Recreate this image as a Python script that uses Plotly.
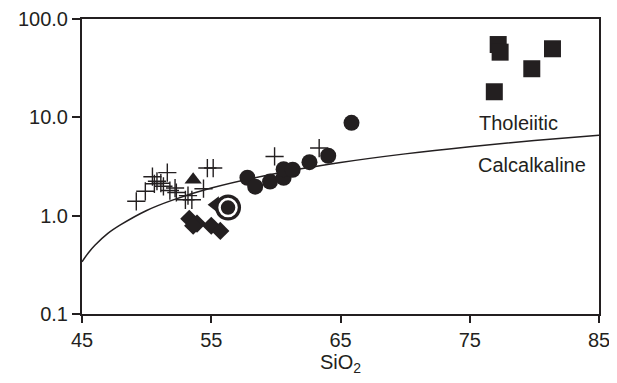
import plotly.graph_objects as go

# Boundary line (tholeiitic / calc-alkaline)
line_sio2 = [45, 45.5, 46, 47, 48, 50, 52, 55, 60, 65, 70, 75, 80, 85]
line_ratio = [0.34, 0.42, 0.50, 0.66, 0.81, 1.13, 1.44, 1.91, 2.69, 3.47, 4.25, 5.03, 5.81, 6.59]

cross_sio2 = [49.2, 49.9, 50.45, 50.8, 50.6, 51.1, 51.3, 51.6, 51.8, 52.3, 52.2, 53.0, 53.5, 53.2, 54.4, 54.7, 55.15, 59.9, 63.35]
cross_ratio = [1.40, 1.77, 2.49, 2.24, 2.11, 2.14, 1.99, 2.74, 1.80, 1.72, 1.91, 1.45, 1.45, 1.60, 1.88, 3.05, 3.05, 4.0, 4.87]

circle_sio2 = [57.8, 58.4, 59.55, 60.6, 60.6, 61.3, 62.6, 64.05, 65.85]
circle_ratio = [2.43, 1.97, 2.22, 2.43, 2.97, 2.93, 3.50, 4.07, 8.8]

square_sio2 = [77.2, 77.35, 81.4, 79.8, 76.9]
square_ratio = [55.0, 46.0, 49.8, 31.2, 18.2]

diamond_sio2 = [53.3, 53.9, 53.6, 55.0, 55.7]
diamond_ratio = [0.93, 0.83, 0.79, 0.79, 0.70]

triangle_sio2 = [53.6]
triangle_ratio = [2.32]

tri_left_sio2 = [55.3]
tri_left_ratio = [1.29]

ring_sio2 = [56.3]
ring_ratio = [1.21]

x_ticks = [45, 55, 65, 75, 85]
y_ticks = [0.1, 1, 10, 100]
y_ticktext = ["0.1", "1.0", "10.0", "100.0"]

INK = "#231f20"
FONT = "Liberation Sans, Arial, sans-serif"

fig = go.Figure()
fig.add_trace(go.Scatter(x=line_sio2, y=line_ratio, mode="lines",
                         line=dict(color=INK, width=1.5, shape="spline"), hoverinfo="skip"))
fig.add_trace(go.Scatter(x=cross_sio2, y=cross_ratio, mode="markers",
                         marker=dict(symbol="cross-thin", size=13, line=dict(color=INK, width=1.4))))
fig.add_trace(go.Scatter(x=diamond_sio2, y=diamond_ratio, mode="markers",
                         marker=dict(symbol="diamond", size=14, color=INK)))
fig.add_trace(go.Scatter(x=triangle_sio2, y=triangle_ratio, mode="markers",
                         marker=dict(symbol="triangle-up", size=15, color=INK)))
fig.add_trace(go.Scatter(x=tri_left_sio2, y=tri_left_ratio, mode="markers",
                         marker=dict(symbol="triangle-left", size=15, color=INK)))
fig.add_trace(go.Scatter(x=ring_sio2, y=ring_ratio, mode="markers",
                         marker=dict(symbol="circle", size=26, color=INK)))
fig.add_trace(go.Scatter(x=ring_sio2, y=ring_ratio, mode="markers",
                         marker=dict(symbol="circle-open", size=17, color="white",
                                     line=dict(color="white", width=2.5))))
fig.add_trace(go.Scatter(x=circle_sio2, y=circle_ratio, mode="markers",
                         marker=dict(symbol="circle", size=16, color=INK)))
fig.add_trace(go.Scatter(x=square_sio2, y=square_ratio, mode="markers",
                         marker=dict(symbol="square", size=17, color=INK)))

fig.add_annotation(x=78.8, y=0.945, yref="y", text="Tholeiitic", showarrow=False,
                   font=dict(family=FONT, size=20, color=INK))
fig.add_annotation(x=79.8, y=0.518, yref="y", text="Calcalkaline", showarrow=False,
                   font=dict(family=FONT, size=20, color=INK))
fig.add_annotation(x=0.5, xref="paper", y=0, yref="paper", yanchor="top", yshift=-35,
                   text="SiO<sub>2</sub>", showarrow=False,
                   font=dict(family=FONT, size=20, color=INK))

# page body has an 8px margin, so the figure is offset by 8px in the window
fig.update_layout(
    width=609, height=375,
    margin=dict(l=74, r=18, t=11, b=69),
    paper_bgcolor="white", plot_bgcolor="white",
    showlegend=False, hovermode=False,
    font=dict(family=FONT, size=20, color=INK),
)
fig.update_xaxes(range=[45, 85], tickvals=x_ticks, ticks="outside", ticklen=7, tickwidth=2,
                 tickcolor=INK, showline=True, linecolor=INK, linewidth=2, mirror=True,
                 showgrid=False, zeroline=False, automargin=False)
fig.update_yaxes(type="log", range=[-1, 2], tickvals=y_ticks, ticktext=y_ticktext,
                 ticks="outside", ticklen=8, tickwidth=2, tickcolor=INK,
                 showline=True, linecolor=INK, linewidth=2, mirror=True,
                 showgrid=False, zeroline=False, automargin=False)

fig.write_html("out.html")
